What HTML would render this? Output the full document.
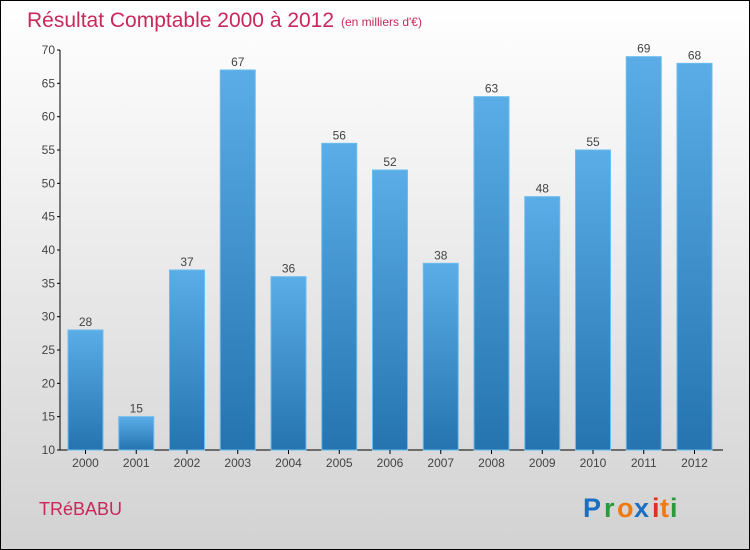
<!DOCTYPE html>
<html><head><meta charset="utf-8"><style>
body{margin:0}
#c{width:748px;height:548px;border:1px solid #000;background:linear-gradient(#fff 0%,#f2f2f2 30%,#d2d2d2 100%);position:relative;font-family:"Liberation Sans",sans-serif;overflow:hidden}
</style></head><body>
<div id="c">
<svg width="748" height="548" viewBox="0 0 748 548" id="svg">
<defs><linearGradient id="g" x1="0" y1="0" x2="0" y2="1"><stop offset="0" stop-color="#5aade6"/><stop offset="1" stop-color="#2574b0"/></linearGradient></defs>
<text x="26" y="26" font-size="21" fill="#c8285a">Résultat Comptable 2000 à 2012</text>
<text x="340" y="25" font-size="12" fill="#c8285a">(en milliers d'€)</text>
<g id="plot"></g>
<text x="38" y="514" font-size="18" fill="#c8285a">TRéBABU</text>
<g font-size="27" font-weight="bold" font-family="'Liberation Sans',sans-serif">
<text x="582" y="516" fill="#1a6fc4">P</text><text x="603" y="516" fill="#2a9a3a">r</text><text x="616" y="516" fill="#f07a10">o</text><text x="633" y="516" fill="#1a6fc4">x</text><text x="651" y="516" fill="#e03020">i</text><text x="659" y="516" fill="#f07a10">t</text><text x="669" y="516" fill="#2a9a3a">i</text>
</g>
</svg></div>
<script>
const years=["2000","2001","2002","2003","2004","2005","2006","2007","2008","2009","2010","2011","2012"];
const values=[28,15,37,67,36,56,52,38,63,48,55,69,68];
const ticks=[10,15,20,25,30,35,40,45,50,55,60,65,70];
const NS="http://www.w3.org/2000/svg";
const g=document.getElementById('plot');
const y=v=>449-(v-10)*400/60;
const x=i=>84.5+i*50.75;
function mk(t,a,txt){const e=document.createElementNS(NS,t);for(const k in a)e.setAttribute(k,a[k]);if(txt!==undefined)e.textContent=txt;g.appendChild(e);return e;}
let ax=mk('line',{x1:59,y1:49,x2:59,y2:449,stroke:'#000'});


let bx=mk('line',{x1:59,y1:449,x2:722,y2:449,stroke:'#000'});


ticks.forEach(t=>{
 let l=mk('line',{x1:56,y1:y(t),x2:59,y2:y(t),stroke:'#000'});
 
 
 let tx=mk('text',{x:54,y:y(t)+4,'font-size':12,fill:'#444','text-anchor':'end'},t);
 
 
});
years.forEach((yr,i)=>{
 const v=values[i];
 let r=mk('rect',{x:x(i)-17.5,y:y(v),width:35,height:449-y(v),fill:'url(#g)',stroke:'#6bbcf0','stroke-width':1});
 
 
 let t=mk('text',{x:x(i),y:y(v)-4,'font-size':12,fill:'#444','text-anchor':'middle'},v);
 
 
 let tk=mk('line',{x1:x(i),y1:449,x2:x(i),y2:453,stroke:'#000'});
 
 
 let xl=mk('text',{x:x(i),y:466,'font-size':12,fill:'#444','text-anchor':'middle'},yr);
 
 
});
</script>
</body></html>
